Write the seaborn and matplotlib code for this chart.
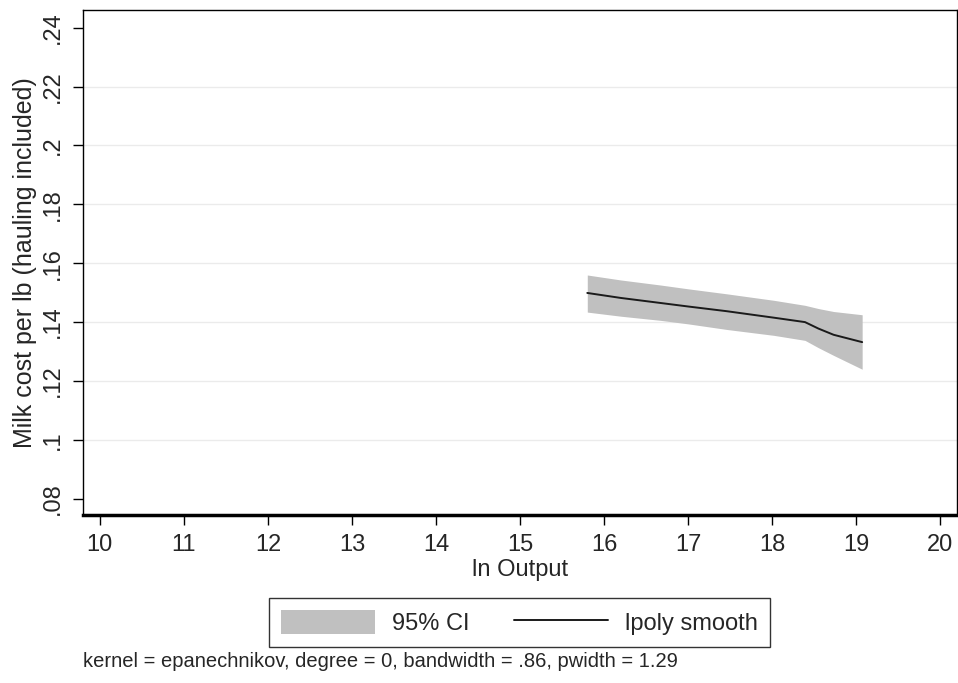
import numpy as np
import pandas as pd
import seaborn as sns
import matplotlib
matplotlib.use("Agg")
import matplotlib.pyplot as plt
from matplotlib.patches import Patch
from matplotlib.lines import Line2D

# ===============================
# DATA
# ===============================
ln_output = [15.80, 16.20, 16.67, 17.00, 17.46, 18.02, 18.39, 18.55, 18.73, 19.07]
smooth    = [0.1499, 0.1482, 0.1465, 0.1453, 0.1437, 0.1415, 0.1400, 0.1378, 0.1357, 0.1332]
ci_upper  = [0.1560, 0.1543, 0.1526, 0.1513, 0.1496, 0.1474, 0.1457, 0.1446, 0.1436, 0.1425]
ci_lower  = [0.1434, 0.1420, 0.1406, 0.1394, 0.1375, 0.1355, 0.1338, 0.1313, 0.1287, 0.1240]

x_ticks = [10, 11, 12, 13, 14, 15, 16, 17, 18, 19, 20]
y_ticks = [0.08, 0.10, 0.12, 0.14, 0.16, 0.18, 0.20, 0.22, 0.24]
y_tick_labels = [".08", ".1", ".12", ".14", ".16", ".18", ".2", ".22", ".24"]

df = pd.DataFrame({"x": ln_output, "y": smooth, "lo": ci_lower, "hi": ci_upper})

# ===============================
# STYLE
# ===============================
sns.set_theme(style="white")
plt.rcParams["font.family"] = ["Liberation Sans", "DejaVu Sans"]

fig = plt.figure(figsize=(9.58, 6.83), dpi=100)
ax = fig.add_axes([0.0866, 0.2460, 0.9125, 0.7394])

band_color = "#c0c0c0"
line_color = "#1a1a1a"

ax.fill_between(df["x"], df["lo"], df["hi"], color=band_color, linewidth=0, zorder=2)
sns.lineplot(data=df, x="x", y="y", color=line_color, linewidth=1.4, ax=ax, zorder=3)

# grid lines only on inner ticks
for yv in y_ticks[1:-1]:
    ax.axhline(yv, color="#ebebeb", linewidth=1, zorder=1)

ax.set_xlim(9.8, 20.2)
ax.set_ylim(0.0745, 0.2460)
ax.set_xticks(x_ticks)
ax.set_yticks(y_ticks)
ax.set_yticklabels(y_tick_labels, rotation=90, va="center")

ax.tick_params(axis="both", which="both", direction="out", length=7, width=1,
               color="black", labelsize=17, bottom=True, left=True)
ax.tick_params(axis="x", pad=7)
ax.tick_params(axis="y", pad=7)

for side in ["top", "right", "left"]:
    ax.spines[side].set_color("black")
    ax.spines[side].set_linewidth(1)
ax.spines["bottom"].set_color("black")
ax.spines["bottom"].set_linewidth(2.5)

ax.set_xlabel("ln Output", fontsize=17, labelpad=2)
ax.set_ylabel("Milk cost per lb (hauling included)", fontsize=18, labelpad=3)

# ===============================
# LEGEND + NOTE
# ===============================
handles = [Patch(facecolor=band_color, edgecolor="none"),
           Line2D([0], [0], color=line_color, linewidth=1.4)]
leg = fig.legend(handles, ["95% CI", "lpoly smooth"], ncol=2, loc="center",
                 bbox_to_anchor=(0.542, 0.0885), fontsize=17, frameon=True,
                 fancybox=False, edgecolor="black", handlelength=4.0,
                 handleheight=1.15, columnspacing=1.9, handletextpad=0.7,
                 borderpad=0.5)
leg.get_frame().set_linewidth(1)

fig.text(0.0866, 0.031, "kernel = epanechnikov, degree = 0, bandwidth = .86, pwidth = 1.29",
         fontsize=14.5, ha="left", va="center")

fig.savefig("out.png", dpi=100, facecolor="white")
